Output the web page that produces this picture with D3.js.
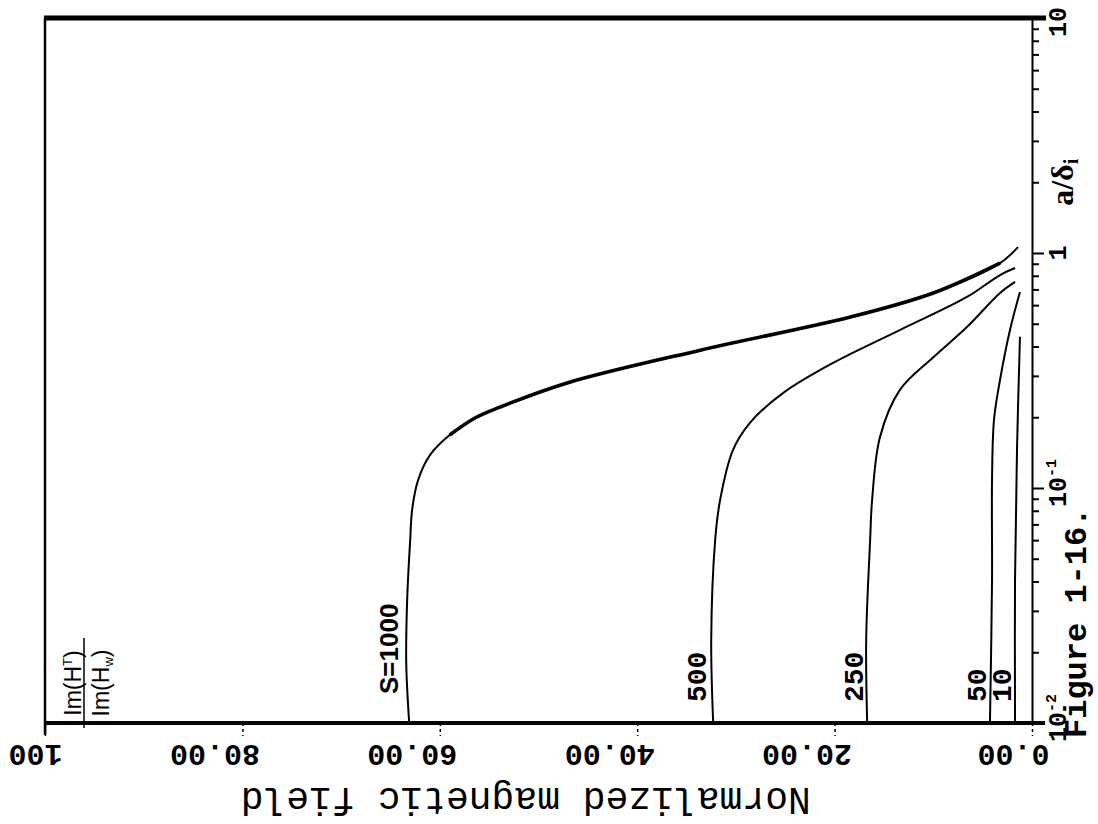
<!DOCTYPE html>
<html>
<head>
<meta charset="utf-8">
<script src="https://cdn.jsdelivr.net/npm/d3@7"></script>
<style>
  body { margin: 0; background: #fff; }
  svg { display: block; }
</style>
</head>
<body>
<div class="js-chart"></div>
<script>
// a/delta_i (log axis) and normalized field for each S curve
var s1000A = [0.01, 0.018, 0.034, 0.060, 0.081, 0.108, 0.138, 0.168, 0.199, 0.221, 0.280, 0.386, 0.534, 0.676, 0.906, 1.06];
var s1000H = [63.1, 63.4, 63.3, 63.0, 62.8, 62.2, 61.0, 59.0, 56.4, 53.9, 47.1, 33.6, 18.4, 10.0, 3.24, 1.42];
var s500A = [0.01, 0.0225, 0.0601, 0.0889, 0.145, 0.189, 0.254, 0.340, 0.470, 0.650, 0.806, 0.863];
var s500H = [32.3, 32.5, 32.1, 31.6, 30.3, 28.6, 25.2, 20.2, 13.4, 6.59, 3.24, 1.72];
var s250A = [0.01, 0.0225, 0.0601, 0.0889, 0.165, 0.261, 0.360, 0.484, 0.676, 0.754];
var s250H = [16.7, 16.8, 16.4, 16.2, 15.4, 13.4, 10.0, 6.59, 3.24, 1.72];
var s50A = [0.01, 0.0407, 0.108, 0.195, 0.288, 0.470, 0.683];
var s50H = [4.26, 4.05, 4.05, 3.85, 3.24, 2.23, 1.22];
var s10A = [0.01, 0.0407, 0.145, 0.440];
var s10H = [1.72, 1.72, 1.52, 1.22];

var curveNames = ['S=1000', '500', '250', '50', '10'];
var fieldTicks = [0, 20, 40, 60, 80, 100];
var fieldTickLabels = ['0.00', '20.00', '40.00', '60.00', '80.00', '100'];
var decadeTicks = [0.01, 0.1, 1, 10];
var decadeLabels = ['10', '10', '1', '10'];
var decadeExps = ['-2', '-1', '', ''];

var curves = [
    {name: curveNames[0], a: s1000A, h: s1000H},
    {name: curveNames[1], a: s500A, h: s500H},
    {name: curveNames[2], a: s250A, h: s250H},
    {name: curveNames[3], a: s50A, h: s50H},
    {name: curveNames[4], a: s10A, h: s10H}
];

var svg = d3.select('.js-chart')
    .append('svg')
    .attr('width', 1098)
    .attr('height', 824);

// value axis runs horizontally (right = 0), a/delta runs vertically
var x = d3.scaleLinear().domain([0, 100]).range([1032, 45]);
var y = d3.scaleLog().domain([0.01, 10]).range([723, 18]);

var mono = '"Liberation Mono", "DejaVu Sans Mono", monospace';

// frame: thick top edge, left edge
svg.append('line')
    .attr('x1', x(100) - 1).attr('x2', x(0) + 14)
    .attr('y1', y(10)).attr('y2', y(10))
    .attr('stroke', '#000').attr('stroke-width', 5);

svg.append('line')
    .attr('x1', x(100)).attr('x2', x(100))
    .attr('y1', y(10)).attr('y2', y(0.01) + 12)
    .attr('stroke', '#000').attr('stroke-width', 2.5);

// bottom axis
var bottom = svg.append('g')
    .attr('transform', 'translate(0,' + y(0.01) + ')')
    .call(d3.axisBottom(x).tickValues(fieldTicks).tickSize(13).tickSizeOuter(0).tickFormat(''));

bottom.select('.domain')
    .attr('d', 'M' + x(100) + ',0H' + (x(0) + 13))
    .attr('stroke-width', 4);
bottom.selectAll('.tick line')
    .attr('stroke-width', 1.5)
    .attr('stroke-dasharray', function(d) { return d === 100 ? null : '3,3'; });
bottom.selectAll('.tick text').remove();
bottom.selectAll('.tick')
    .append('text')
    .attr('transform', 'translate(17,22) rotate(180)')
    .attr('text-anchor', 'start')
    .attr('fill', '#000')
    .style('font-family', mono)
    .style('font-weight', 'bold')
    .style('font-size', '30px')
    .text(function(d) { return fieldTickLabels[fieldTicks.indexOf(d)]; });

svg.append('text')
    .attr('transform', 'translate(' + x(51.3) + ',788) rotate(180)')
    .attr('text-anchor', 'middle')
    .style('font-family', mono)
    .style('font-size', '38px')
    .text('Normalized magnetic field');

// right (log) axis
var right = svg.append('g')
    .attr('transform', 'translate(' + x(0) + ',0)')
    .call(d3.axisRight(y).tickSize(7).tickSizeOuter(0).tickFormat(''));

right.select('.domain').attr('stroke-width', 2);
right.selectAll('.tick line')
    .attr('stroke-width', 2)
    .attr('x2', function(d) { return decadeTicks.indexOf(d) >= 0 ? 12 : 7; });
right.selectAll('.tick text').remove();

var decLabel = svg.selectAll('.dec-label')
    .data(decadeTicks)
    .enter()
    .append('text')
    .attr('class', 'dec-label')
    .attr('transform', function(d, i) {
        var off = decadeLabels[i] === '1' ? 0 : 19;
        return 'translate(1066,' + (y(d) + off) + ') rotate(-90)';
    })
    .attr('text-anchor', function(d, i) { return decadeLabels[i] === '1' ? 'middle' : 'start'; })
    .style('font-family', mono)
    .style('font-weight', 'bold')
    .style('font-size', '25px');

decLabel.append('tspan').text(function(d, i) { return decadeLabels[i]; });
decLabel.append('tspan')
    .attr('dy', -10)
    .style('font-size', '15px')
    .text(function(d, i) { return decadeExps[i]; });

var axName = svg.append('text')
    .attr('transform', 'translate(1073,' + y(2.0) + ') rotate(-90)')
    .attr('text-anchor', 'middle')
    .style('font-family', '"Liberation Serif", serif')
    .style('font-weight', 'bold')
    .style('font-size', '32px');
axName.append('tspan').text('a/\u03b4');
axName.append('tspan').attr('dy', 5).style('font-size', '20px').text('i');

svg.append('text')
    .attr('transform', 'translate(1086,' + (y(0.01) + 15) + ') rotate(-90)')
    .attr('text-anchor', 'start')
    .style('font-family', mono)
    .style('font-weight', 'bold')
    .style('font-size', '32px')
    .text('Figure 1-16.');

// ratio label in the upper-left
var frac = svg.append('g')
    .attr('transform', 'translate(84,' + y(0.0148) + ') rotate(-90)');
frac.append('line')
    .attr('x1', -45).attr('x2', 45)
    .attr('stroke', '#000').attr('stroke-width', 1.5);
var num = frac.append('text')
    .attr('y', -3)
    .attr('text-anchor', 'middle')
    .style('font-family', '"Liberation Sans", sans-serif')
    .style('font-size', '23px');
num.append('tspan').text('Im(H');
num.append('tspan').attr('dy', -9).style('font-size', '13px').text('T');
num.append('tspan').attr('dy', 9).text(')');
var den = frac.append('text')
    .attr('y', 25)
    .attr('text-anchor', 'middle')
    .style('font-family', '"Liberation Sans", sans-serif')
    .style('font-size', '23px');
den.append('tspan').text('Im(H');
den.append('tspan').attr('dy', 4).style('font-size', '13px').text('w');
den.append('tspan').attr('dy', -4).text(')');

// curves
var line = d3.line()
    .x(function(d) { return x(d[1]); })
    .y(function(d) { return y(d[0]); })
    .curve(d3.curveCatmullRom.alpha(0.5));

curves.forEach(function(c) {
    c.points = c.a.map(function(a, i) { return [a, c.h[i]]; });
});

svg.selectAll('.curve')
    .data(curves)
    .enter()
    .append('path')
    .attr('class', 'curve')
    .attr('d', function(c) { return line(c.points); })
    .attr('fill', 'none')
    .attr('stroke', '#000')
    .attr('stroke-width', 2);

// the S=1000 curve is drawn heavier through its steep part
svg.append('path')
    .attr('d', line(curves[0].points.filter(function(p) { return p[0] >= 0.168 && p[0] <= 0.906; })))
    .attr('fill', 'none')
    .attr('stroke', '#000')
    .attr('stroke-width', 3.6);

svg.selectAll('.curve-label')
    .data(curves)
    .enter()
    .append('text')
    .attr('class', 'curve-label')
    .attr('transform', function(c, i) {
        var gap = i === 0 ? 11 : (i === 1 ? 7 : 4);
        return 'translate(' + (x(c.h[0]) - gap) + ',' + (i === 0 ? 694 : 702) + ') rotate(-90)';
    })
    .attr('text-anchor', 'start')
    .style('font-family', function(c, i) { return i === 0 ? '"Liberation Sans", sans-serif' : mono; })
    .style('font-weight', 'bold')
    .style('font-size', function(c, i) { return i === 0 ? '26px' : '28px'; })
    .text(function(c) { return c.name; });
</script>
</body>
</html>
